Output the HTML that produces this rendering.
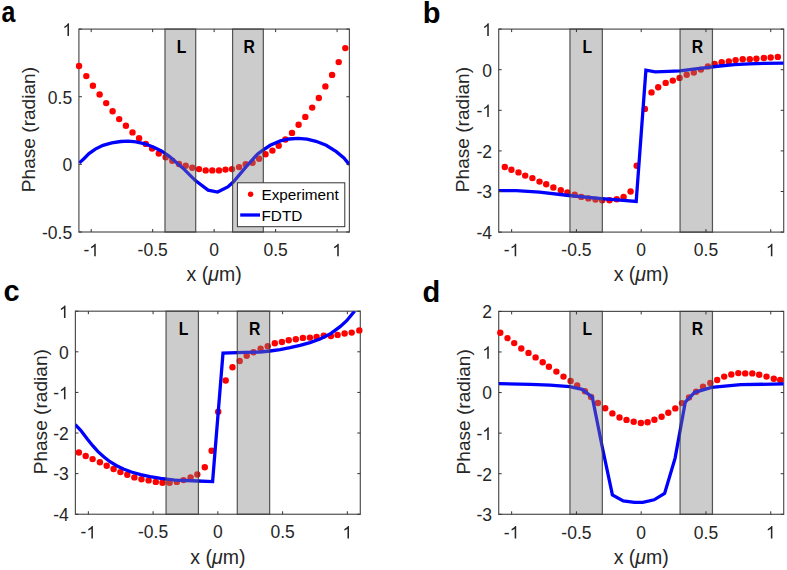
<!DOCTYPE html><html><head><meta charset="utf-8"><style>html,body{margin:0;padding:0;background:#fff;}svg{display:block;}</style></head><body>
<svg width="787" height="570" viewBox="0 0 787 570" style="font-family:'Liberation Sans', sans-serif">
<rect width="787" height="570" fill="#fff"/>
<rect x="78.9" y="29.1" width="270.5" height="202.9" fill="none" stroke="#505050" stroke-width="1.2"/>
<circle cx="79.05" cy="66.05" r="3.2" fill="#ff0000"/>
<circle cx="86.3" cy="76.1" r="3.2" fill="#ff0000"/>
<circle cx="92.9" cy="85.7" r="3.2" fill="#ff0000"/>
<circle cx="99.6" cy="94.5" r="3.2" fill="#ff0000"/>
<circle cx="106.2" cy="103.1" r="3.2" fill="#ff0000"/>
<circle cx="112.6" cy="111.3" r="3.2" fill="#ff0000"/>
<circle cx="119.2" cy="119.1" r="3.2" fill="#ff0000"/>
<circle cx="125.9" cy="125.7" r="3.2" fill="#ff0000"/>
<circle cx="132.5" cy="132.4" r="3.2" fill="#ff0000"/>
<circle cx="139.1" cy="138.3" r="3.2" fill="#ff0000"/>
<circle cx="145.8" cy="143.9" r="3.2" fill="#ff0000"/>
<circle cx="152.1" cy="148.6" r="3.2" fill="#ff0000"/>
<circle cx="158.8" cy="153.5" r="3.2" fill="#ff0000"/>
<circle cx="165.7" cy="157.3" r="3.2" fill="#ff0000"/>
<circle cx="172.3" cy="160.7" r="3.2" fill="#ff0000"/>
<circle cx="179" cy="164" r="3.2" fill="#ff0000"/>
<circle cx="185.7" cy="165.8" r="3.2" fill="#ff0000"/>
<circle cx="192.3" cy="167.7" r="3.2" fill="#ff0000"/>
<circle cx="199" cy="169.1" r="3.2" fill="#ff0000"/>
<circle cx="205.7" cy="170.4" r="3.2" fill="#ff0000"/>
<circle cx="212.3" cy="170.4" r="3.2" fill="#ff0000"/>
<circle cx="219" cy="170.4" r="3.2" fill="#ff0000"/>
<circle cx="225.5" cy="169.6" r="3.2" fill="#ff0000"/>
<circle cx="232" cy="169.1" r="3.2" fill="#ff0000"/>
<circle cx="239.1" cy="167.1" r="3.2" fill="#ff0000"/>
<circle cx="245.7" cy="164.3" r="3.2" fill="#ff0000"/>
<circle cx="252.6" cy="162.8" r="3.2" fill="#ff0000"/>
<circle cx="259.1" cy="158.7" r="3.2" fill="#ff0000"/>
<circle cx="265.5" cy="154.3" r="3.2" fill="#ff0000"/>
<circle cx="272.4" cy="150.6" r="3.2" fill="#ff0000"/>
<circle cx="278.7" cy="145.7" r="3.2" fill="#ff0000"/>
<circle cx="285.4" cy="139.5" r="3.2" fill="#ff0000"/>
<circle cx="292" cy="132.9" r="3.2" fill="#ff0000"/>
<circle cx="298.6" cy="124.8" r="3.2" fill="#ff0000"/>
<circle cx="305.3" cy="116.9" r="3.2" fill="#ff0000"/>
<circle cx="312.2" cy="107.6" r="3.2" fill="#ff0000"/>
<circle cx="318.8" cy="98" r="3.2" fill="#ff0000"/>
<circle cx="325.4" cy="86.4" r="3.2" fill="#ff0000"/>
<circle cx="332.1" cy="74.9" r="3.2" fill="#ff0000"/>
<circle cx="338.7" cy="62.1" r="3.2" fill="#ff0000"/>
<circle cx="345.3" cy="48.1" r="3.2" fill="#ff0000"/>
<g clip-path="url(#clipa)">
<polyline points="79.4,162.9 83.9,158.7 89,153.6 95.3,149.1 103,145.3 111.8,142.8 120.7,141.5 128.4,141.1 136,141.9 144.9,143.8 153.8,147.2 161.4,151 169,156.1 182.7,167.9 195.4,180.6 208.1,190.1 217.6,192 227.8,186.9 233.5,181.8 246.2,166.6 257.7,153.9 262.6,150.4 270.2,145.3 280.4,140.9 289.3,139 298.2,138.3 307.1,139.2 316,141.3 326.2,145.3 336.3,151.7 343.9,158 349.4,164.6" fill="none" stroke="#0000ff" stroke-width="3.3" stroke-linejoin="miter" stroke-miterlimit="3"/>
</g>
<rect x="164.97" y="29.1" width="30.74" height="202.9" fill="#808080" fill-opacity="0.4" stroke="#3a3a3a" stroke-width="1.2" stroke-opacity="0.85"/>
<text transform="translate(181.54,53.1) scale(0.86,1)" text-anchor="middle" font-size="18.3" font-weight="bold" fill="#000">L</text>
<rect x="232.59" y="29.1" width="30.74" height="202.9" fill="#808080" fill-opacity="0.4" stroke="#3a3a3a" stroke-width="1.2" stroke-opacity="0.85"/>
<text transform="translate(249.16,53.1) scale(0.86,1)" text-anchor="middle" font-size="18.3" font-weight="bold" fill="#000">R</text>
<path d="M91.2 232v-3M91.2 29.1v3" stroke="#333" stroke-width="1"/>
<text x="83.42" y="256.2" font-size="17.5" fill="#262626">-</text>
<path transform="translate(89.24,256.2) scale(0.00854,-0.00854)" d="M763 0H583V1147Q518 1085 412.5 1023Q307 961 223 930V1104Q374 1175 487 1276Q600 1377 647 1472H763V0Z" fill="#262626"/>
<path d="M152.67 232v-3M152.67 29.1v3" stroke="#333" stroke-width="1"/>
<text x="152.67" y="256.2" text-anchor="middle" font-size="17.5" fill="#262626">-0.5</text>
<path d="M214.15 232v-3M214.15 29.1v3" stroke="#333" stroke-width="1"/>
<text x="214.15" y="256.2" text-anchor="middle" font-size="17.5" fill="#262626">0</text>
<path d="M275.63 232v-3M275.63 29.1v3" stroke="#333" stroke-width="1"/>
<text x="275.63" y="256.2" text-anchor="middle" font-size="17.5" fill="#262626">0.5</text>
<path d="M337.1 232v-3M337.1 29.1v3" stroke="#333" stroke-width="1"/>
<path transform="translate(332.24,256.2) scale(0.00854,-0.00854)" d="M763 0H583V1147Q518 1085 412.5 1023Q307 961 223 930V1104Q374 1175 487 1276Q600 1377 647 1472H763V0Z" fill="#262626"/>
<path d="M78.9 232h3M349.4 232h-3" stroke="#333" stroke-width="1"/>
<text x="72.2" y="238.8" text-anchor="end" font-size="17.5" fill="#262626">-0.5</text>
<path d="M78.9 164.37h3M349.4 164.37h-3" stroke="#333" stroke-width="1"/>
<text x="72.2" y="171.17" text-anchor="end" font-size="17.5" fill="#262626">0</text>
<path d="M78.9 96.73h3M349.4 96.73h-3" stroke="#333" stroke-width="1"/>
<text x="72.2" y="103.53" text-anchor="end" font-size="17.5" fill="#262626">0.5</text>
<path d="M78.9 29.1h3M349.4 29.1h-3" stroke="#333" stroke-width="1"/>
<path transform="translate(62.47,35.9) scale(0.00854,-0.00854)" d="M763 0H583V1147Q518 1085 412.5 1023Q307 961 223 930V1104Q374 1175 487 1276Q600 1377 647 1472H763V0Z" fill="#262626"/>
<text x="214.15" y="281.3" text-anchor="middle" font-size="19.5" fill="#262626">x (<tspan font-style="italic">μ</tspan>m)</text>
<text transform="translate(34.8,129.55) rotate(-90)" text-anchor="middle" font-size="19.1" fill="#262626">Phase (radian)</text>
<text transform="translate(1.5,21.8) scale(0.86,1)" font-size="29" font-weight="bold" fill="#000">a</text>
<clipPath id="clipa"><rect x="78.9" y="29.1" width="270.5" height="202.9"/></clipPath>
<rect x="498.7" y="29.1" width="285" height="203" fill="none" stroke="#505050" stroke-width="1.2"/>
<circle cx="504.8" cy="167" r="3.2" fill="#ff0000"/>
<circle cx="511.4" cy="169.7" r="3.2" fill="#ff0000"/>
<circle cx="518.5" cy="172.4" r="3.2" fill="#ff0000"/>
<circle cx="525.2" cy="175.6" r="3.2" fill="#ff0000"/>
<circle cx="532.4" cy="178.1" r="3.2" fill="#ff0000"/>
<circle cx="539.5" cy="181.6" r="3.2" fill="#ff0000"/>
<circle cx="546.2" cy="184.3" r="3.2" fill="#ff0000"/>
<circle cx="553.4" cy="187.5" r="3.2" fill="#ff0000"/>
<circle cx="560.8" cy="190.2" r="3.2" fill="#ff0000"/>
<circle cx="567.4" cy="192.5" r="3.2" fill="#ff0000"/>
<circle cx="574.7" cy="194.8" r="3.2" fill="#ff0000"/>
<circle cx="581.3" cy="196.9" r="3.2" fill="#ff0000"/>
<circle cx="588.4" cy="198.4" r="3.2" fill="#ff0000"/>
<circle cx="595.5" cy="199.6" r="3.2" fill="#ff0000"/>
<circle cx="602.2" cy="200.3" r="3.2" fill="#ff0000"/>
<circle cx="609.5" cy="200.3" r="3.2" fill="#ff0000"/>
<circle cx="616.7" cy="199.2" r="3.2" fill="#ff0000"/>
<circle cx="623.6" cy="197" r="3.2" fill="#ff0000"/>
<circle cx="630.6" cy="191.5" r="3.2" fill="#ff0000"/>
<circle cx="636.7" cy="165.8" r="3.2" fill="#ff0000"/>
<circle cx="644.9" cy="108.9" r="3.2" fill="#ff0000"/>
<circle cx="651.5" cy="92.4" r="3.2" fill="#ff0000"/>
<circle cx="658.2" cy="87.2" r="3.2" fill="#ff0000"/>
<circle cx="665.7" cy="82.9" r="3.2" fill="#ff0000"/>
<circle cx="672.8" cy="80.6" r="3.2" fill="#ff0000"/>
<circle cx="679.6" cy="77.9" r="3.2" fill="#ff0000"/>
<circle cx="686.7" cy="74.7" r="3.2" fill="#ff0000"/>
<circle cx="693.8" cy="72.6" r="3.2" fill="#ff0000"/>
<circle cx="700.9" cy="69.6" r="3.2" fill="#ff0000"/>
<circle cx="707.9" cy="66.4" r="3.2" fill="#ff0000"/>
<circle cx="714.6" cy="64" r="3.2" fill="#ff0000"/>
<circle cx="721.7" cy="62.3" r="3.2" fill="#ff0000"/>
<circle cx="728.8" cy="61.4" r="3.2" fill="#ff0000"/>
<circle cx="735.6" cy="60.1" r="3.2" fill="#ff0000"/>
<circle cx="742.7" cy="59.2" r="3.2" fill="#ff0000"/>
<circle cx="749.8" cy="59.2" r="3.2" fill="#ff0000"/>
<circle cx="756.4" cy="58.7" r="3.2" fill="#ff0000"/>
<circle cx="763.9" cy="58" r="3.2" fill="#ff0000"/>
<circle cx="770.7" cy="57.5" r="3.2" fill="#ff0000"/>
<circle cx="777.8" cy="56.9" r="3.2" fill="#ff0000"/>
<g clip-path="url(#clipb)">
<polyline points="498.6,190.7 516.4,190.7 539.5,192.1 568.8,195.5 601.8,198.7 636.2,201.5 645.9,70.2 655.3,71.9 668.6,71.4 680,70.8 693.4,69.1 706.7,67.6 719.8,66 734.5,64.6 749.1,63.8 763.8,63.3 783.7,63.1" fill="none" stroke="#0000ff" stroke-width="3.3" stroke-linejoin="miter" stroke-miterlimit="3"/>
</g>
<rect x="569.95" y="29.1" width="32.39" height="203" fill="#808080" fill-opacity="0.4" stroke="#3a3a3a" stroke-width="1.2" stroke-opacity="0.85"/>
<text transform="translate(587.34,53.1) scale(0.86,1)" text-anchor="middle" font-size="18.3" font-weight="bold" fill="#000">L</text>
<rect x="680.06" y="29.1" width="32.39" height="203" fill="#808080" fill-opacity="0.4" stroke="#3a3a3a" stroke-width="1.2" stroke-opacity="0.85"/>
<text transform="translate(697.46,53.1) scale(0.86,1)" text-anchor="middle" font-size="18.3" font-weight="bold" fill="#000">R</text>
<path d="M511.65 232.1v-3M511.65 29.1v3" stroke="#333" stroke-width="1"/>
<text x="503.87" y="256.3" font-size="17.5" fill="#262626">-</text>
<path transform="translate(509.7,256.3) scale(0.00854,-0.00854)" d="M763 0H583V1147Q518 1085 412.5 1023Q307 961 223 930V1104Q374 1175 487 1276Q600 1377 647 1472H763V0Z" fill="#262626"/>
<path d="M576.43 232.1v-3M576.43 29.1v3" stroke="#333" stroke-width="1"/>
<text x="576.43" y="256.3" text-anchor="middle" font-size="17.5" fill="#262626">-0.5</text>
<path d="M641.2 232.1v-3M641.2 29.1v3" stroke="#333" stroke-width="1"/>
<text x="641.2" y="256.3" text-anchor="middle" font-size="17.5" fill="#262626">0</text>
<path d="M705.97 232.1v-3M705.97 29.1v3" stroke="#333" stroke-width="1"/>
<text x="705.97" y="256.3" text-anchor="middle" font-size="17.5" fill="#262626">0.5</text>
<path d="M770.75 232.1v-3M770.75 29.1v3" stroke="#333" stroke-width="1"/>
<path transform="translate(765.88,256.3) scale(0.00854,-0.00854)" d="M763 0H583V1147Q518 1085 412.5 1023Q307 961 223 930V1104Q374 1175 487 1276Q600 1377 647 1472H763V0Z" fill="#262626"/>
<path d="M498.7 232.1h3M783.7 232.1h-3" stroke="#333" stroke-width="1"/>
<text x="492" y="238.9" text-anchor="end" font-size="17.5" fill="#262626">-4</text>
<path d="M498.7 191.5h3M783.7 191.5h-3" stroke="#333" stroke-width="1"/>
<text x="492" y="198.3" text-anchor="end" font-size="17.5" fill="#262626">-3</text>
<path d="M498.7 150.9h3M783.7 150.9h-3" stroke="#333" stroke-width="1"/>
<text x="492" y="157.7" text-anchor="end" font-size="17.5" fill="#262626">-2</text>
<path d="M498.7 110.3h3M783.7 110.3h-3" stroke="#333" stroke-width="1"/>
<text x="476.44" y="117.1" font-size="17.5" fill="#262626">-</text>
<path transform="translate(482.27,117.1) scale(0.00854,-0.00854)" d="M763 0H583V1147Q518 1085 412.5 1023Q307 961 223 930V1104Q374 1175 487 1276Q600 1377 647 1472H763V0Z" fill="#262626"/>
<path d="M498.7 69.7h3M783.7 69.7h-3" stroke="#333" stroke-width="1"/>
<text x="492" y="76.5" text-anchor="end" font-size="17.5" fill="#262626">0</text>
<path d="M498.7 29.1h3M783.7 29.1h-3" stroke="#333" stroke-width="1"/>
<path transform="translate(482.27,35.9) scale(0.00854,-0.00854)" d="M763 0H583V1147Q518 1085 412.5 1023Q307 961 223 930V1104Q374 1175 487 1276Q600 1377 647 1472H763V0Z" fill="#262626"/>
<text x="641.2" y="281.4" text-anchor="middle" font-size="19.5" fill="#262626">x (<tspan font-style="italic">μ</tspan>m)</text>
<text transform="translate(469.2,129.6) rotate(-90)" text-anchor="middle" font-size="19.1" fill="#262626">Phase (radian)</text>
<text transform="translate(422.8,23.4) scale(1.0,1)" font-size="29" font-weight="bold" fill="#000">b</text>
<clipPath id="clipb"><rect x="498.7" y="29.1" width="285" height="203"/></clipPath>
<rect x="75.4" y="311.2" width="284.9" height="203.05" fill="none" stroke="#505050" stroke-width="1.2"/>
<circle cx="78.9" cy="452.5" r="3.2" fill="#ff0000"/>
<circle cx="85.7" cy="456" r="3.2" fill="#ff0000"/>
<circle cx="92.6" cy="459.1" r="3.2" fill="#ff0000"/>
<circle cx="99.9" cy="462.3" r="3.2" fill="#ff0000"/>
<circle cx="106.7" cy="465.8" r="3.2" fill="#ff0000"/>
<circle cx="113.6" cy="469" r="3.2" fill="#ff0000"/>
<circle cx="120.4" cy="472.1" r="3.2" fill="#ff0000"/>
<circle cx="127.3" cy="474.7" r="3.2" fill="#ff0000"/>
<circle cx="134.4" cy="477.4" r="3.2" fill="#ff0000"/>
<circle cx="141.5" cy="479.2" r="3.2" fill="#ff0000"/>
<circle cx="148.6" cy="480.4" r="3.2" fill="#ff0000"/>
<circle cx="155.8" cy="481.9" r="3.2" fill="#ff0000"/>
<circle cx="162.5" cy="482.7" r="3.2" fill="#ff0000"/>
<circle cx="169.6" cy="482.7" r="3.2" fill="#ff0000"/>
<circle cx="176.8" cy="481.9" r="3.2" fill="#ff0000"/>
<circle cx="183.5" cy="480.1" r="3.2" fill="#ff0000"/>
<circle cx="190.6" cy="477.4" r="3.2" fill="#ff0000"/>
<circle cx="197.3" cy="474.5" r="3.2" fill="#ff0000"/>
<circle cx="204.8" cy="467.3" r="3.2" fill="#ff0000"/>
<circle cx="211.6" cy="450.7" r="3.2" fill="#ff0000"/>
<circle cx="218.2" cy="411.7" r="3.2" fill="#ff0000"/>
<circle cx="225.7" cy="380.5" r="3.2" fill="#ff0000"/>
<circle cx="232.5" cy="367.3" r="3.2" fill="#ff0000"/>
<circle cx="239.7" cy="361" r="3.2" fill="#ff0000"/>
<circle cx="246.7" cy="355.7" r="3.2" fill="#ff0000"/>
<circle cx="253.5" cy="352.2" r="3.2" fill="#ff0000"/>
<circle cx="260.6" cy="348.6" r="3.2" fill="#ff0000"/>
<circle cx="267.7" cy="346.3" r="3.2" fill="#ff0000"/>
<circle cx="274.8" cy="343.3" r="3.2" fill="#ff0000"/>
<circle cx="281.9" cy="342" r="3.2" fill="#ff0000"/>
<circle cx="288.7" cy="340.2" r="3.2" fill="#ff0000"/>
<circle cx="295.8" cy="339.3" r="3.2" fill="#ff0000"/>
<circle cx="302.9" cy="337.9" r="3.2" fill="#ff0000"/>
<circle cx="309.9" cy="337.6" r="3.2" fill="#ff0000"/>
<circle cx="316.6" cy="337" r="3.2" fill="#ff0000"/>
<circle cx="323.8" cy="335.6" r="3.2" fill="#ff0000"/>
<circle cx="330.9" cy="336.1" r="3.2" fill="#ff0000"/>
<circle cx="337.6" cy="334.9" r="3.2" fill="#ff0000"/>
<circle cx="344.6" cy="333.5" r="3.2" fill="#ff0000"/>
<circle cx="351.7" cy="332.6" r="3.2" fill="#ff0000"/>
<circle cx="359.3" cy="330.4" r="3.2" fill="#ff0000"/>
<g clip-path="url(#clipc)">
<polyline points="75.3,424.6 80.7,430.3 87.3,439 92.7,445.7 98,451.7 104,457 110,461.7 116.7,465.7 123.4,469 131.4,472 140.7,474.6 150,476.6 160.7,478.4 175,480.1 198.1,481 212.6,481.6 223,353.1 245,352.3 260,352 270,351 280,349.7 290,347.7 300,345.4 310,342.6 320,339 330,334.1 340.1,326.7 346.7,320.7 354.7,311" fill="none" stroke="#0000ff" stroke-width="3.3" stroke-linejoin="miter" stroke-miterlimit="3"/>
</g>
<rect x="166.05" y="311.2" width="32.38" height="203.05" fill="#808080" fill-opacity="0.4" stroke="#3a3a3a" stroke-width="1.2" stroke-opacity="0.85"/>
<text transform="translate(183.44,335.2) scale(0.86,1)" text-anchor="middle" font-size="18.3" font-weight="bold" fill="#000">L</text>
<rect x="237.27" y="311.2" width="32.38" height="203.05" fill="#808080" fill-opacity="0.4" stroke="#3a3a3a" stroke-width="1.2" stroke-opacity="0.85"/>
<text transform="translate(254.66,335.2) scale(0.86,1)" text-anchor="middle" font-size="18.3" font-weight="bold" fill="#000">R</text>
<path d="M88.35 514.25v-3M88.35 311.2v3" stroke="#333" stroke-width="1"/>
<text x="80.57" y="538.45" font-size="17.5" fill="#262626">-</text>
<path transform="translate(86.4,538.45) scale(0.00854,-0.00854)" d="M763 0H583V1147Q518 1085 412.5 1023Q307 961 223 930V1104Q374 1175 487 1276Q600 1377 647 1472H763V0Z" fill="#262626"/>
<path d="M153.1 514.25v-3M153.1 311.2v3" stroke="#333" stroke-width="1"/>
<text x="153.1" y="538.45" text-anchor="middle" font-size="17.5" fill="#262626">-0.5</text>
<path d="M217.85 514.25v-3M217.85 311.2v3" stroke="#333" stroke-width="1"/>
<text x="217.85" y="538.45" text-anchor="middle" font-size="17.5" fill="#262626">0</text>
<path d="M282.6 514.25v-3M282.6 311.2v3" stroke="#333" stroke-width="1"/>
<text x="282.6" y="538.45" text-anchor="middle" font-size="17.5" fill="#262626">0.5</text>
<path d="M347.35 514.25v-3M347.35 311.2v3" stroke="#333" stroke-width="1"/>
<path transform="translate(342.48,538.45) scale(0.00854,-0.00854)" d="M763 0H583V1147Q518 1085 412.5 1023Q307 961 223 930V1104Q374 1175 487 1276Q600 1377 647 1472H763V0Z" fill="#262626"/>
<path d="M75.4 514.25h3M360.3 514.25h-3" stroke="#333" stroke-width="1"/>
<text x="68.7" y="521.05" text-anchor="end" font-size="17.5" fill="#262626">-4</text>
<path d="M75.4 473.64h3M360.3 473.64h-3" stroke="#333" stroke-width="1"/>
<text x="68.7" y="480.44" text-anchor="end" font-size="17.5" fill="#262626">-3</text>
<path d="M75.4 433.03h3M360.3 433.03h-3" stroke="#333" stroke-width="1"/>
<text x="68.7" y="439.83" text-anchor="end" font-size="17.5" fill="#262626">-2</text>
<path d="M75.4 392.42h3M360.3 392.42h-3" stroke="#333" stroke-width="1"/>
<text x="53.14" y="399.22" font-size="17.5" fill="#262626">-</text>
<path transform="translate(58.97,399.22) scale(0.00854,-0.00854)" d="M763 0H583V1147Q518 1085 412.5 1023Q307 961 223 930V1104Q374 1175 487 1276Q600 1377 647 1472H763V0Z" fill="#262626"/>
<path d="M75.4 351.81h3M360.3 351.81h-3" stroke="#333" stroke-width="1"/>
<text x="68.7" y="358.61" text-anchor="end" font-size="17.5" fill="#262626">0</text>
<path d="M75.4 311.2h3M360.3 311.2h-3" stroke="#333" stroke-width="1"/>
<path transform="translate(58.97,318) scale(0.00854,-0.00854)" d="M763 0H583V1147Q518 1085 412.5 1023Q307 961 223 930V1104Q374 1175 487 1276Q600 1377 647 1472H763V0Z" fill="#262626"/>
<text x="217.85" y="563.55" text-anchor="middle" font-size="19.5" fill="#262626">x (<tspan font-style="italic">μ</tspan>m)</text>
<text transform="translate(46.7,411.73) rotate(-90)" text-anchor="middle" font-size="19.1" fill="#262626">Phase (radian)</text>
<text transform="translate(3.5,301.3) scale(1.0,1)" font-size="29" font-weight="bold" fill="#000">c</text>
<clipPath id="clipc"><rect x="75.4" y="311.2" width="284.9" height="203.05"/></clipPath>
<rect x="498.7" y="311.4" width="285" height="202.9" fill="none" stroke="#505050" stroke-width="1.2"/>
<circle cx="500.3" cy="332.8" r="3.2" fill="#ff0000"/>
<circle cx="507.5" cy="338.1" r="3.2" fill="#ff0000"/>
<circle cx="514.2" cy="343.1" r="3.2" fill="#ff0000"/>
<circle cx="521.3" cy="348.5" r="3.2" fill="#ff0000"/>
<circle cx="528.5" cy="352.9" r="3.2" fill="#ff0000"/>
<circle cx="535.6" cy="357.4" r="3.2" fill="#ff0000"/>
<circle cx="542.7" cy="362.2" r="3.2" fill="#ff0000"/>
<circle cx="548.9" cy="366.8" r="3.2" fill="#ff0000"/>
<circle cx="556.4" cy="371.6" r="3.2" fill="#ff0000"/>
<circle cx="563.5" cy="376.6" r="3.2" fill="#ff0000"/>
<circle cx="570.6" cy="380.9" r="3.2" fill="#ff0000"/>
<circle cx="577.2" cy="385.5" r="3.2" fill="#ff0000"/>
<circle cx="584.9" cy="391.2" r="3.2" fill="#ff0000"/>
<circle cx="591.1" cy="397" r="3.2" fill="#ff0000"/>
<circle cx="597.9" cy="403" r="3.2" fill="#ff0000"/>
<circle cx="605.2" cy="408.2" r="3.2" fill="#ff0000"/>
<circle cx="612.4" cy="413.4" r="3.2" fill="#ff0000"/>
<circle cx="619.5" cy="417.5" r="3.2" fill="#ff0000"/>
<circle cx="626.5" cy="419.9" r="3.2" fill="#ff0000"/>
<circle cx="633.7" cy="421.7" r="3.2" fill="#ff0000"/>
<circle cx="640.9" cy="423" r="3.2" fill="#ff0000"/>
<circle cx="647.6" cy="422.3" r="3.2" fill="#ff0000"/>
<circle cx="654.4" cy="419.8" r="3.2" fill="#ff0000"/>
<circle cx="661.6" cy="416.7" r="3.2" fill="#ff0000"/>
<circle cx="668.3" cy="412.8" r="3.2" fill="#ff0000"/>
<circle cx="675.3" cy="408.4" r="3.2" fill="#ff0000"/>
<circle cx="682" cy="403.1" r="3.2" fill="#ff0000"/>
<circle cx="689" cy="397.4" r="3.2" fill="#ff0000"/>
<circle cx="696.1" cy="391.7" r="3.2" fill="#ff0000"/>
<circle cx="703" cy="386.7" r="3.2" fill="#ff0000"/>
<circle cx="710.3" cy="383" r="3.2" fill="#ff0000"/>
<circle cx="717.2" cy="380" r="3.2" fill="#ff0000"/>
<circle cx="724.2" cy="376.6" r="3.2" fill="#ff0000"/>
<circle cx="731.3" cy="374.5" r="3.2" fill="#ff0000"/>
<circle cx="738.3" cy="373.1" r="3.2" fill="#ff0000"/>
<circle cx="745.2" cy="373.4" r="3.2" fill="#ff0000"/>
<circle cx="752.3" cy="373.4" r="3.2" fill="#ff0000"/>
<circle cx="759.2" cy="374.7" r="3.2" fill="#ff0000"/>
<circle cx="766.5" cy="376.6" r="3.2" fill="#ff0000"/>
<circle cx="773.8" cy="378.7" r="3.2" fill="#ff0000"/>
<circle cx="780.2" cy="379.9" r="3.2" fill="#ff0000"/>
<g clip-path="url(#clipd)">
<polyline points="498.6,383.7 530.6,384.4 550,385.2 569.7,386.7 582.2,389.4 592.3,397.2 602.1,446.3 612.4,494.9 623.2,500.9 634.4,502.3 642.8,502.3 654.1,499.8 664.6,493.5 675.1,458.1 685.3,402 694.7,392.3 711.6,387.4 740.7,384.7 783.7,383.9" fill="none" stroke="#0000ff" stroke-width="3.3" stroke-linejoin="miter" stroke-miterlimit="3"/>
</g>
<rect x="569.95" y="311.4" width="32.39" height="202.9" fill="#808080" fill-opacity="0.4" stroke="#3a3a3a" stroke-width="1.2" stroke-opacity="0.85"/>
<text transform="translate(587.34,335.4) scale(0.86,1)" text-anchor="middle" font-size="18.3" font-weight="bold" fill="#000">L</text>
<rect x="680.06" y="311.4" width="32.39" height="202.9" fill="#808080" fill-opacity="0.4" stroke="#3a3a3a" stroke-width="1.2" stroke-opacity="0.85"/>
<text transform="translate(697.46,335.4) scale(0.86,1)" text-anchor="middle" font-size="18.3" font-weight="bold" fill="#000">R</text>
<path d="M511.65 514.3v-3M511.65 311.4v3" stroke="#333" stroke-width="1"/>
<text x="503.87" y="538.5" font-size="17.5" fill="#262626">-</text>
<path transform="translate(509.7,538.5) scale(0.00854,-0.00854)" d="M763 0H583V1147Q518 1085 412.5 1023Q307 961 223 930V1104Q374 1175 487 1276Q600 1377 647 1472H763V0Z" fill="#262626"/>
<path d="M576.43 514.3v-3M576.43 311.4v3" stroke="#333" stroke-width="1"/>
<text x="576.43" y="538.5" text-anchor="middle" font-size="17.5" fill="#262626">-0.5</text>
<path d="M641.2 514.3v-3M641.2 311.4v3" stroke="#333" stroke-width="1"/>
<text x="641.2" y="538.5" text-anchor="middle" font-size="17.5" fill="#262626">0</text>
<path d="M705.97 514.3v-3M705.97 311.4v3" stroke="#333" stroke-width="1"/>
<text x="705.97" y="538.5" text-anchor="middle" font-size="17.5" fill="#262626">0.5</text>
<path d="M770.75 514.3v-3M770.75 311.4v3" stroke="#333" stroke-width="1"/>
<path transform="translate(765.88,538.5) scale(0.00854,-0.00854)" d="M763 0H583V1147Q518 1085 412.5 1023Q307 961 223 930V1104Q374 1175 487 1276Q600 1377 647 1472H763V0Z" fill="#262626"/>
<path d="M498.7 514.3h3M783.7 514.3h-3" stroke="#333" stroke-width="1"/>
<text x="492" y="521.1" text-anchor="end" font-size="17.5" fill="#262626">-3</text>
<path d="M498.7 473.72h3M783.7 473.72h-3" stroke="#333" stroke-width="1"/>
<text x="492" y="480.52" text-anchor="end" font-size="17.5" fill="#262626">-2</text>
<path d="M498.7 433.14h3M783.7 433.14h-3" stroke="#333" stroke-width="1"/>
<text x="476.44" y="439.94" font-size="17.5" fill="#262626">-</text>
<path transform="translate(482.27,439.94) scale(0.00854,-0.00854)" d="M763 0H583V1147Q518 1085 412.5 1023Q307 961 223 930V1104Q374 1175 487 1276Q600 1377 647 1472H763V0Z" fill="#262626"/>
<path d="M498.7 392.56h3M783.7 392.56h-3" stroke="#333" stroke-width="1"/>
<text x="492" y="399.36" text-anchor="end" font-size="17.5" fill="#262626">0</text>
<path d="M498.7 351.98h3M783.7 351.98h-3" stroke="#333" stroke-width="1"/>
<path transform="translate(482.27,358.78) scale(0.00854,-0.00854)" d="M763 0H583V1147Q518 1085 412.5 1023Q307 961 223 930V1104Q374 1175 487 1276Q600 1377 647 1472H763V0Z" fill="#262626"/>
<path d="M498.7 311.4h3M783.7 311.4h-3" stroke="#333" stroke-width="1"/>
<text x="492" y="318.2" text-anchor="end" font-size="17.5" fill="#262626">2</text>
<text x="641.2" y="563.6" text-anchor="middle" font-size="19.5" fill="#262626">x (<tspan font-style="italic">μ</tspan>m)</text>
<text transform="translate(469.8,411.85) rotate(-90)" text-anchor="middle" font-size="19.1" fill="#262626">Phase (radian)</text>
<text transform="translate(422.5,302.1) scale(1.0,1)" font-size="29" font-weight="bold" fill="#000">d</text>
<clipPath id="clipd"><rect x="498.7" y="311.4" width="285" height="202.9"/></clipPath>
<rect x="237.4" y="182.8" width="107.4" height="43.9" fill="#fff" stroke="#333" stroke-width="1"/>
<circle cx="250.6" cy="194.3" r="2.7" fill="#ff0000"/>
<path d="M240.2 215H260" stroke="#0000ff" stroke-width="3.3"/>
<text x="261.5" y="200.1" font-size="15.3" fill="#000">Experiment</text>
<text x="261.5" y="221.3" font-size="15.3" fill="#000">FDTD</text>
</svg></body></html>
